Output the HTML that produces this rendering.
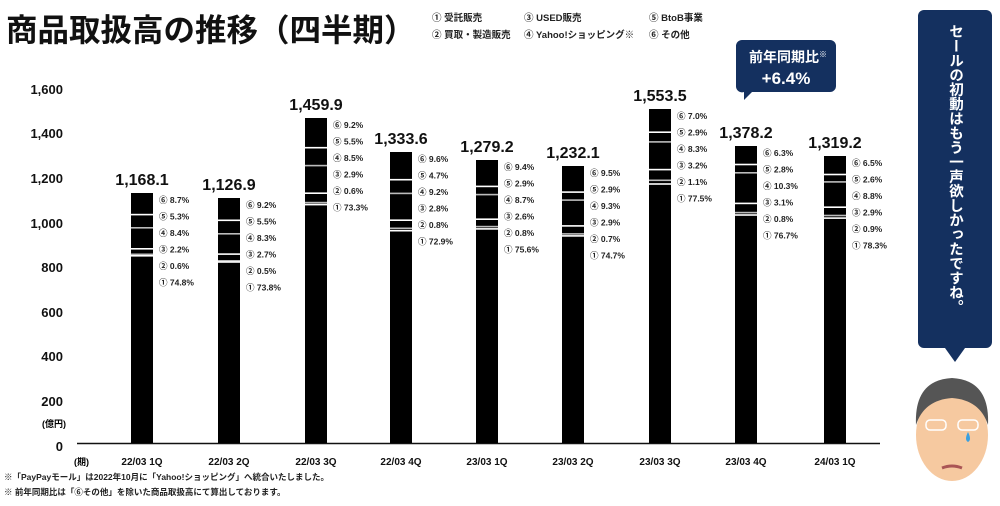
<!DOCTYPE html>
<html><head><meta charset="utf-8"><style>
body{margin:0;width:1000px;height:501px;background:#fff;overflow:hidden;font-family:"Liberation Sans","Noto Sans CJK JP",sans-serif;}
svg text{font-family:"Liberation Sans","Noto Sans CJK JP",sans-serif;}
</style></head><body>
<svg id="s" width="1000" height="501" xmlns="http://www.w3.org/2000/svg">
<text x="6" y="41" font-size="31.5" font-weight="bold" fill="#111">商品取扱高の推移（四半期）</text>
<g font-size="9.5" font-weight="bold" fill="#222">
<text x="432" y="21">① 受託販売</text><text x="524" y="21">③ USED販売</text><text x="649" y="21">⑤ BtoB事業</text>
<text x="432" y="38">② 買取・製造販売</text><text x="524" y="38">④ Yahoo!ショッピング※</text><text x="649" y="38">⑥ その他</text>
</g>
<g font-size="13" font-weight="bold" fill="#111" text-anchor="end">
<text x="63" y="94">1,600</text><text x="63" y="138">1,400</text><text x="63" y="183">1,200</text><text x="63" y="228">1,000</text>
<text x="63" y="272">800</text><text x="63" y="317">600</text><text x="63" y="361">400</text><text x="63" y="406">200</text><text x="63" y="451">0</text>
</g>
<text x="66" y="427" font-size="9" font-weight="bold" text-anchor="end">(億円)</text>
<line x1="77" y1="443.5" x2="880" y2="443.5" stroke="#111" stroke-width="1.5"/>
<text x="74" y="465" font-size="9" font-weight="bold">(期)</text>
<g id="bars"></g>
<path d="M742 40 h88 a6 6 0 0 1 6 6 v40 a6 6 0 0 1 -6 6 h-78 l-8 8 l0 -8 a6 6 0 0 1 -8 -6 v-40 a6 6 0 0 1 6 -6z" fill="#14305f"/>
<text x="788" y="62" font-size="14" font-weight="bold" fill="#fff" text-anchor="middle">前年同期比<tspan font-size="8" dy="-5">※</tspan></text>
<text x="786" y="84" font-size="17" font-weight="bold" fill="#fff" text-anchor="middle">+6.4%</text>
<rect x="918" y="10" width="74" height="338" rx="6" fill="#14305f"/>
<path d="M945 348 L955 362 L965 348z" fill="#14305f"/>
<text font-size="14.5" font-weight="bold" fill="#fff" writing-mode="tb" x="955" y="24">セールの初動はもう一声欲しかったですね。</text>
<ellipse cx="952" cy="435" rx="36" ry="46" fill="#f6c9a0"/>
<path d="M916 425 Q914 380 952 378 Q990 380 988 425 Q980 400 952 398 Q924 400 916 425z" fill="#555"/>
<rect x="926" y="420" width="20" height="10" rx="4" fill="none" stroke="#fff" stroke-width="1.5"/>
<rect x="958" y="420" width="20" height="10" rx="4" fill="none" stroke="#fff" stroke-width="1.5"/>
<path d="M968 432 q-4 8 0 10 q4 -2 0 -10z" fill="#3aa0e0"/>
<path d="M942 468 q10 -4 20 0" stroke="#a55" stroke-width="3" fill="none"/>
<g font-size="8.5" font-weight="bold" fill="#222">
<text x="4" y="480">※「PayPayモール」は2022年10月に「Yahoo!ショッピング」へ統合いたしました。</text>
<text x="4" y="495">※ 前年同期比は「⑥その他」を除いた商品取扱高にて算出しております。</text>
</g>
</svg>
<script>
var d=[
[142,193,"1,168.1","22/03 1Q",[8.7,5.3,8.4,2.2,0.6,74.8]],
[229,198,"1,126.9","22/03 2Q",[9.2,5.5,8.3,2.7,0.5,73.8]],
[316,118,"1,459.9","22/03 3Q",[9.2,5.5,8.5,2.9,0.6,73.3]],
[401,152,"1,333.6","22/03 4Q",[9.6,4.7,9.2,2.8,0.8,72.9]],
[487,160,"1,279.2","23/03 1Q",[9.4,2.9,8.7,2.6,0.8,75.6]],
[573,166,"1,232.1","23/03 2Q",[9.5,2.9,9.3,2.9,0.7,74.7]],
[660,109,"1,553.5","23/03 3Q",[7.0,2.9,8.3,3.2,1.1,77.5]],
[746,146,"1,378.2","23/03 4Q",[6.3,2.8,10.3,3.1,0.8,76.7]],
[835,156,"1,319.2","24/03 1Q",[6.5,2.6,8.8,2.9,0.9,78.3]]];
var n=["⑥","⑤","④","③","②","①"],h="";
d.forEach(function(b){var x=b[0]-11,t=b[1],H=443-t;
h+='<rect x="'+x+'" y="'+t+'" width="22" height="'+H+'" fill="#000"/>';
var c=0;for(var i=0;i<5;i++){c+=b[4][i];var y=t+H*c/100;h+='<rect x="'+x+'" y="'+(y-1).toFixed(1)+'" width="22" height="1.6" fill="'+(i%2?'#bbb':'#fff')+'"/>';}
h+='<text x="'+b[0]+'" y="'+(t-8)+'" font-size="16" font-weight="bold" text-anchor="middle" fill="#111">'+b[2]+'</text>';
for(var i=0;i<6;i++)h+='<text x="'+(b[0]+17)+'" y="'+(t+10+i*16.5)+'" font-size="8.5" font-weight="bold" fill="#222">'+n[i]+' '+b[4][i].toFixed(1)+'%</text>';
h+='<text x="'+b[0]+'" y="465" font-size="10" font-weight="bold" text-anchor="middle" fill="#111">'+b[3]+'</text>';});
document.getElementById("bars").innerHTML=h;
</script>
</body></html>
